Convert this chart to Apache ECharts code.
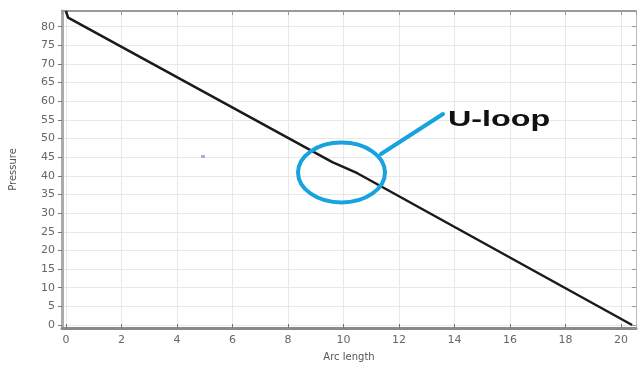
<!DOCTYPE html>
<html><head><meta charset="utf-8">
<script src="https://cdn.jsdelivr.net/npm/echarts@6/dist/echarts.min.js"></script>
<style>html,body{margin:0;padding:0;background:#fff}#c{width:638px;height:367px}</style>
</head><body><div id="c"></div>
<script>
var arcLength = [0, 0.08, 9.6, 10.5, 20.4];
var pressure  = [84.2, 82.4, 43.7, 40.7, 0];
var xName = 'Arc length';
var yName = 'Pressure';
var annotationText = 'U-loop';

var data = arcLength.map(function (x, i) { return [x, pressure[i]]; });
var chart = echarts.init(document.getElementById('c'), null, {renderer: 'canvas'});
var lblColor = '#666';
chart.setOption({
  animation: false,
  grid: {left: 61, right: 2, top: 11, bottom: 35, containLabel: false},
  xAxis: [{
    type: 'value', min: -0.14, max: 20.54, splitNumber: 10,
    name: xName, nameLocation: 'middle', nameGap: 24,
    nameTextStyle: {fontSize: 10, color: '#555', fontFamily: 'DejaVu Sans'},
    axisLine: {onZero: false, lineStyle: {color: '#8a8a8a', width: 3}},
    axisTick: {inside: true, length: 4, lineStyle: {color: '#777'}},
    axisLabel: {fontSize: 11, color: lblColor, margin: 7, showMinLabel: false, showMaxLabel: false, fontFamily: 'DejaVu Sans'},
    splitLine: {show: true, lineStyle: {color: '#e8e8e8', width: 1}}
  }, {
    type: 'value', position: 'top', min: -0.14, max: 20.54, splitNumber: 10,
    axisLine: {show: true, onZero: false, lineStyle: {color: '#9a9a9a', width: 2}},
    axisTick: {inside: true, length: 4, lineStyle: {color: '#999'}},
    axisLabel: {show: false}, splitLine: {show: false}
  }],
  yAxis: [{
    type: 'value', min: -0.8, max: 84.2, splitNumber: 17,
    name: yName, nameLocation: 'middle', nameGap: 44,
    nameTextStyle: {fontSize: 10, color: '#555', fontFamily: 'DejaVu Sans'},
    axisLine: {show: true, onZero: false, lineStyle: {color: '#ababab', width: 3}},
    axisTick: {show: true, length: 4, lineStyle: {color: '#777'}},
    axisLabel: {fontSize: 11, color: lblColor, margin: 7, showMinLabel: false, showMaxLabel: false, fontFamily: 'DejaVu Sans'},
    splitLine: {show: true, lineStyle: {color: '#e8e8e8', width: 1}}
  }, {
    type: 'value', position: 'right', min: -0.8, max: 84.2, splitNumber: 17,
    axisLine: {show: true, onZero: false, lineStyle: {color: '#bbb', width: 1}},
    axisTick: {show: true, inside: true, length: 4, lineStyle: {color: '#999'}},
    axisLabel: {show: false}, splitLine: {show: false}
  }],
  series: [{
    type: 'line', data: data, showSymbol: false, symbol: 'none',
    lineStyle: {color: '#1a1a1a', width: 2.5}
  }],
  graphic: [
    {type: 'ellipse', shape: {cx: 341.5, cy: 172.5, rx: 43.5, ry: 30}, style: {fill: 'none', stroke: '#17a2e0', lineWidth: 4}, z: 100},
    {type: 'line', shape: {x1: 381, y1: 154, x2: 443, y2: 114}, style: {stroke: '#17a2e0', lineWidth: 4, lineCap: 'round'}, z: 100},
    {type: 'text', x: 448, y: 120, scaleX: 1.47, originX: 0, originY: 0,
     style: {text: annotationText, fill: '#111', font: 'bold 22px "Liberation Sans", Arial, sans-serif', verticalAlign: 'middle'}, z: 100},
    {type: 'rect', shape: {x: 201, y: 155, width: 4, height: 3}, style: {fill: '#a8a8ff'}, z: 100}
  ]
});
</script></body></html>
